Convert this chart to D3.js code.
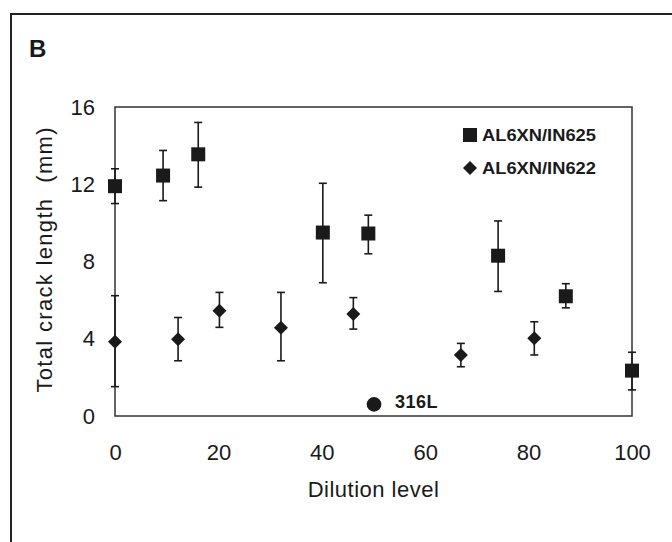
<!DOCTYPE html>
<html>
<head>
<meta charset="utf-8">
<script src="https://cdn.jsdelivr.net/npm/d3@7"></script>
<style>
  body { margin: 0; background: #fff; }
  svg text { font-family: "Liberation Sans", Arial, sans-serif; fill: #1a1a1a; white-space: pre; }
</style>
</head>
<body>
<div class="viz"></div>
<script>
// data
var in625X = [0, 9.3, 16.1, 40.2, 49, 74.1, 87.2, 100];
var in625Y = [11.9, 12.45, 13.55, 9.5, 9.45, 8.3, 6.2, 2.35];
var in625Hi = [12.8, 13.75, 15.2, 12.05, 10.4, 10.1, 6.85, 3.3];
var in625Lo = [11.0, 11.15, 11.85, 6.9, 8.4, 6.45, 5.6, 1.35];

var in622X = [0, 12.2, 20.2, 32.1, 46.1, 66.9, 81.1];
var in622Y = [3.85, 3.97, 5.45, 4.57, 5.28, 3.16, 4.02];
var in622Hi = [6.23, 5.1, 6.4, 6.4, 6.13, 3.76, 4.88];
var in622Lo = [1.52, 2.86, 4.59, 2.86, 4.5, 2.55, 3.16];

var ref316X = [50.1];
var ref316Y = [0.6];

var xTicks = [0, 20, 40, 60, 80, 100];
var yTicks = [0, 4, 8, 12, 16];

var w = 672;
var h = 542;
var box = {left: 115, right: 632, top: 107, bottom: 416};
var ink = "#1a1a1a";

var xScale = d3.scaleLinear().domain([0, 100]).range([box.left, box.right]);
var yScale = d3.scaleLinear().domain([0, 16]).range([box.bottom, box.top]);

var svg = d3.select(".viz")
    .append("svg")
    .attr("width", w)
    .attr("height", h);

// outer panel frame (runs off right/bottom)
svg.append("path")
    .attr("d", "M11," + h + "V14H" + w)
    .attr("fill", "none")
    .attr("stroke", "#222")
    .attr("stroke-width", 2);

svg.append("text")
    .text("B")
    .attr("x", 29)
    .attr("y", 57)
    .attr("font-size", "24px")
    .attr("font-weight", "bold");

// plot box
svg.append("rect")
    .attr("x", box.left)
    .attr("y", box.top)
    .attr("width", box.right - box.left)
    .attr("height", box.bottom - box.top)
    .attr("fill", "none")
    .attr("stroke", "#333")
    .attr("stroke-width", 1.5);

// axes (labels only)
var xaxis = d3.axisBottom(xScale).tickValues(xTicks).tickSize(0).tickPadding(28);
var yaxis = d3.axisLeft(yScale).tickValues(yTicks).tickSize(0).tickPadding(20);

var gx = svg.append("g")
    .attr("transform", "translate(0," + box.bottom + ")")
    .call(xaxis);
var gy = svg.append("g")
    .attr("transform", "translate(" + box.left + ",0)")
    .call(yaxis);
[gx, gy].forEach(function(g) {
    g.select(".domain").remove();
    g.selectAll("text")
        .attr("font-size", "22px")
        .attr("font-family", "'Liberation Sans', Arial, sans-serif")
        .attr("fill", ink);
});

svg.append("text")
    .text("Dilution level")
    .attr("x", (box.left + box.right) / 2)
    .attr("y", 497)
    .attr("text-anchor", "middle")
    .attr("font-size", "22px")
    .attr("letter-spacing", "0.5px");

svg.append("text")
    .text("Total crack length  (mm)")
    .attr("transform", "translate(52,260) rotate(-90)")
    .attr("text-anchor", "middle")
    .attr("font-size", "22px")
    .attr("textLength", 265)
    .attr("lengthAdjust", "spacing");

// error bars
function errorBars(xs, lo, hi) {
    var g = svg.append("g").attr("stroke", ink).attr("stroke-width", 1.6);
    g.selectAll(null)
        .data(xs)
        .enter()
        .append("line")
        .attr("x1", function(d) { return xScale(d); })
        .attr("x2", function(d) { return xScale(d); })
        .attr("y1", function(d, i) { return yScale(lo[i]); })
        .attr("y2", function(d, i) { return yScale(hi[i]); });
    [lo, hi].forEach(function(arr) {
        g.selectAll(null)
            .data(xs)
            .enter()
            .append("line")
            .attr("x1", function(d) { return xScale(d) - 4; })
            .attr("x2", function(d) { return xScale(d) + 4; })
            .attr("y1", function(d, i) { return yScale(arr[i]); })
            .attr("y2", function(d, i) { return yScale(arr[i]); });
    });
}

errorBars(in625X, in625Lo, in625Hi);
errorBars(in622X, in622Lo, in622Hi);

var squareSym = d3.symbol().type(d3.symbolSquare).size(196);
var diamondSym = d3.symbol().type(d3.symbolDiamond2).size(125);
var circleSym = d3.symbol().type(d3.symbolCircle).size(170);

svg.selectAll("path.sq")
    .data(in625X)
    .enter()
    .append("path")
    .attr("class", "sq")
    .attr("d", squareSym)
    .attr("fill", ink)
    .attr("transform", function(d, i) {
        return "translate(" + xScale(d) + "," + yScale(in625Y[i]) + ")";
    });

svg.selectAll("path.dm")
    .data(in622X)
    .enter()
    .append("path")
    .attr("class", "dm")
    .attr("d", diamondSym)
    .attr("fill", ink)
    .attr("transform", function(d, i) {
        return "translate(" + xScale(d) + "," + yScale(in622Y[i]) + ")";
    });

svg.selectAll("path.ci")
    .data(ref316X)
    .enter()
    .append("path")
    .attr("class", "ci")
    .attr("d", circleSym)
    .attr("fill", ink)
    .attr("transform", function(d, i) {
        return "translate(" + xScale(d) + "," + yScale(ref316Y[i]) + ")";
    });

svg.append("text")
    .text("316L")
    .attr("x", xScale(ref316X[0]) + 21)
    .attr("y", yScale(ref316Y[0]) + 4)
    .attr("font-size", "18px")
    .attr("font-weight", "bold")
    .attr("letter-spacing", "0.5px");

// legend
var legend = [
    {label: "AL6XN/IN625", sym: squareSym, y: 135},
    {label: "AL6XN/IN622", sym: diamondSym, y: 168}
];
legend.forEach(function(d) {
    svg.append("path")
        .attr("d", d.sym)
        .attr("fill", ink)
        .attr("transform", "translate(470," + d.y + ")");
    svg.append("text")
        .text(d.label)
        .attr("x", 482)
        .attr("y", d.y + 6)
        .attr("font-size", "17px")
        .attr("font-weight", "bold")
        .attr("textLength", 114)
        .attr("lengthAdjust", "spacingAndGlyphs");
});
</script>
</body>
</html>
